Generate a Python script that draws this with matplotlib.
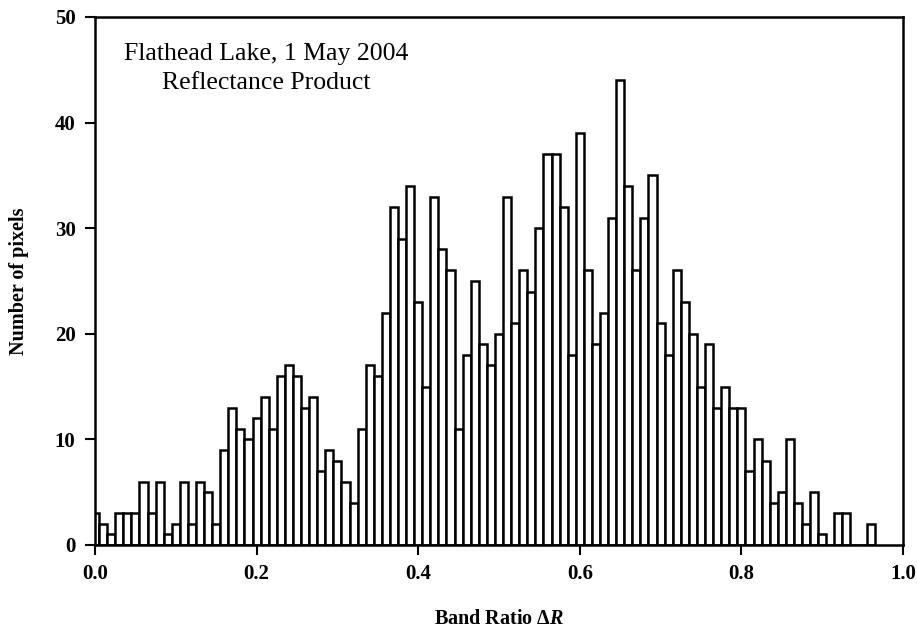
import numpy as np
import matplotlib
matplotlib.use('Agg')
import matplotlib.pyplot as plt

# histogram of band ratio, bin centres 0.00 ... 0.96 (step 0.01)
bin_step = 0.01
counts = [3, 2, 1, 3, 3, 3, 6, 3, 6, 1,
          2, 6, 2, 6, 5, 2, 9, 13, 11, 10,
          12, 14, 11, 16, 17, 16, 13, 14, 7, 9,
          8, 6, 4, 11, 17, 16, 22, 32, 29, 34,
          23, 15, 33, 28, 26, 11, 18, 25, 19, 17,
          20, 33, 21, 26, 24, 30, 37, 37, 32, 18,
          39, 26, 19, 22, 31, 44, 34, 26, 31, 35,
          21, 18, 26, 23, 20, 15, 19, 13, 15, 13,
          13, 7, 10, 8, 4, 5, 10, 4, 2, 5,
          1, 0, 3, 3, 0, 0, 2]
bin_centres = np.arange(len(counts)) * bin_step

x_ticks = [0.0, 0.2, 0.4, 0.6, 0.8, 1.0]
x_tick_labels = ['0.0', '0.2', '0.4', '0.6', '0.8', '1.0']
y_ticks = [0, 10, 20, 30, 40, 50]
title_lines = ['Flathead Lake, 1 May 2004', 'Reflectance Product']

plt.rcParams['font.family'] = ['Liberation Serif', 'DejaVu Serif']
plt.rcParams['mathtext.fontset'] = 'custom'
plt.rcParams['mathtext.it'] = 'Liberation Serif:bold:italic'
plt.rcParams['mathtext.rm'] = 'Liberation Serif:bold'

fig = plt.figure(figsize=(9.17, 6.31), dpi=100)
ax = fig.add_axes([95 / 917, 1 - 545 / 631, 808 / 917, 528 / 631])

ax.bar(bin_centres, counts, width=bin_step, align='center',
       color='white', edgecolor='black', linewidth=1.8)

ax.set_xlim(0, 1.0)
ax.set_ylim(0, 50)
ax.set_xticks(x_ticks)
ax.set_xticklabels(x_tick_labels)
ax.set_yticks(y_ticks)
ax.tick_params(axis='both', direction='out', length=7, width=1.5,
               pad=7, labelsize=15, top=False, right=False)
for lab in ax.get_xticklabels() + ax.get_yticklabels():
    lab.set_fontweight('bold')
for sp in ax.spines.values():
    sp.set_linewidth(1.8)

ax.set_ylabel('Number of pixels', fontsize=14.5, fontweight='bold')
ax.yaxis.set_label_coords((29 - 95) / 808, 0.5)
ax.set_xlabel(r'Band Ratio Δ$R$', fontsize=14.5, fontweight='bold')
ax.xaxis.set_label_coords(0.5, (545 - 609) / 528)

ax.text(0.2116, 0.9186, title_lines[0], transform=ax.transAxes,
        ha='center', va='baseline', fontsize=18.5)
ax.text(0.2116, 0.864, title_lines[1], transform=ax.transAxes,
        ha='center', va='baseline', fontsize=18.5)

fig.savefig('out.png', dpi=100)
